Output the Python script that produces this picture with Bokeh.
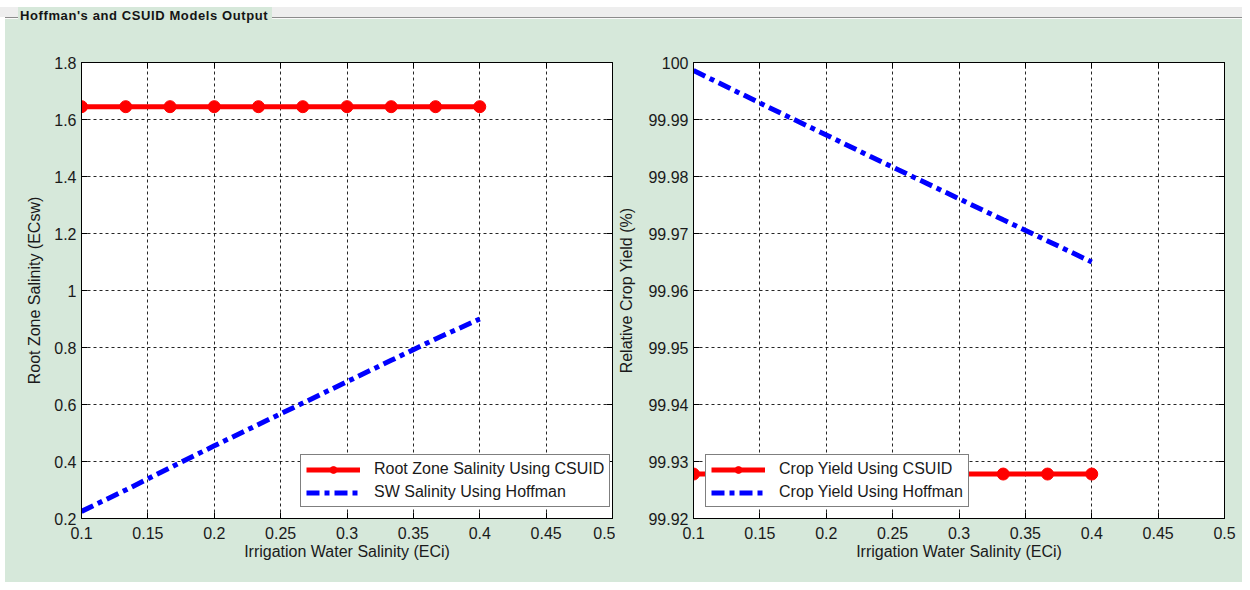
from bokeh.plotting import figure
from bokeh.models import (LinearAxis, Legend, LegendItem, Div, FixedTicker, Range1d, Spacer)
from bokeh.layouts import column, row
from bokeh.embed import file_html
from bokeh.resources import INLINE

# ---------------- data ----------------
title_text = "Hoffman's and CSUID Models Output"
x_eci = [0.1, 0.1333, 0.1667, 0.2, 0.2333, 0.2667, 0.3, 0.3333, 0.3667, 0.4]

rz_csuid = [1.645, 1.645, 1.645, 1.645, 1.645, 1.645, 1.645, 1.645, 1.645, 1.645]
sw_hoffman = [0.225, 0.30, 0.378, 0.455, 0.53, 0.605, 0.68, 0.755, 0.83, 0.90]

cy_csuid = [99.9278, 99.9278, 99.9278, 99.9278, 99.9278, 99.9278, 99.9278, 99.9278, 99.9278, 99.9278]
cy_hoffman = [99.9986, 99.9948, 99.9910, 99.9873, 99.9835, 99.9798, 99.9761, 99.9724, 99.9687, 99.9650]

x_ticks = [0.1, 0.15, 0.2, 0.25, 0.3, 0.35, 0.4, 0.45, 0.5]
x_tick_labels = ["0.1", "0.15", "0.2", "0.25", "0.3", "0.35", "0.4", "0.45", "0.5"]
y1_ticks = [0.2, 0.4, 0.6, 0.8, 1.0, 1.2, 1.4, 1.6, 1.8]
y1_tick_labels = ["0.2", "0.4", "0.6", "0.8", "1", "1.2", "1.4", "1.6", "1.8"]
y2_ticks = [99.92, 99.93, 99.94, 99.95, 99.96, 99.97, 99.98, 99.99, 100.0]
y2_tick_labels = ["99.92", "99.93", "99.94", "99.95", "99.96", "99.97", "99.98", "99.99", "100"]

x_label = "Irrigation Water Salinity (ECi)"
y1_label = "Root Zone Salinity (ECsw)"
y2_label = "Relative Crop Yield (%)"
leg1 = ["Root Zone Salinity Using CSUID", "SW Salinity Using Hoffman"]
leg2 = ["Crop Yield Using CSUID", "Crop Yield Using Hoffman"]

# ---------------- style ----------------
FONT = "Liberation Sans"
GREEN = "#d6e8da"
TXT = "#1a1a1a"
FS = "16px"
FIG_H = 542


def make_fig(width, bl, br, yr, yticks, ylabels, ylabel, ylabel_standoff):
    p = figure(width=width, height=FIG_H, x_range=Range1d(0.1, 0.5), y_range=Range1d(*yr),
               output_backend="svg", toolbar_location=None,
               min_border_left=bl, min_border_right=br, min_border_top=22, min_border_bottom=64)
    p.background_fill_color = "white"
    p.border_fill_color = GREEN
    p.outline_line_color = "black"
    p.outline_line_width = 1

    p.xaxis.ticker = FixedTicker(ticks=x_ticks)
    p.xaxis.major_label_overrides = {t: l for t, l in zip(x_ticks, x_tick_labels)}
    p.yaxis.ticker = FixedTicker(ticks=yticks)
    p.yaxis.major_label_overrides = {t: l for t, l in zip(yticks, ylabels)}
    p.xaxis.axis_label = x_label
    p.yaxis.axis_label = ylabel
    for ax in (p.xaxis, p.yaxis):
        ax.axis_line_color = "black"
        ax.major_tick_in = 6
        ax.major_tick_out = 0
        ax.major_tick_line_color = "black"
        ax.minor_tick_line_color = None
        ax.major_label_text_font = FONT
        ax.major_label_text_font_size = FS
        ax.major_label_text_color = TXT
        ax.axis_label_text_font = FONT
        ax.axis_label_text_font_size = FS
        ax.axis_label_text_font_style = "normal"
        ax.axis_label_text_color = TXT
    p.yaxis.major_label_standoff = 5
    p.xaxis.major_label_standoff = 8
    p.xaxis.axis_label_standoff = 1
    p.yaxis.axis_label_standoff = ylabel_standoff

    # mirrored axes (tick marks only, no labels drawn)
    top = LinearAxis(ticker=FixedTicker(ticks=x_ticks), major_label_text_font_size="1px",
                     major_label_text_color=None, major_label_standoff=0,
                     major_tick_in=6, major_tick_out=0,
                     minor_tick_line_color=None, axis_line_color="black")
    right = LinearAxis(ticker=FixedTicker(ticks=yticks), major_label_text_font_size="1px",
                       major_label_text_color=None, major_label_standoff=0,
                       major_tick_in=6, major_tick_out=0,
                       minor_tick_line_color=None, axis_line_color="black")
    p.add_layout(top, "above")
    p.add_layout(right, "right")

    p.grid.grid_line_color = "black"
    p.grid.grid_line_dash = "3 3"
    p.grid.grid_line_alpha = 0.85
    p.xgrid.ticker = FixedTicker(ticks=x_ticks)
    p.ygrid.ticker = FixedTicker(ticks=yticks)
    return p


def add_series(p, yc, yh, labels, loc):
    l1 = p.line(x_eci, yc, line_color="#ff0000", line_width=5)
    s1 = p.scatter(x_eci, yc, size=12, marker="circle", fill_color="#ff0000", line_color="#ff0000")
    l2 = p.line(x_eci, yh, line_color="#0000ff", line_width=5, line_dash="13 5 5 5")
    leg = Legend(items=[LegendItem(label=labels[0], renderers=[l1, s1]),
                        LegendItem(label=labels[1], renderers=[l2])],
                 location=loc, margin=0, padding=5, spacing=5,
                 glyph_width=54, glyph_height=17, label_height=17, label_standoff=14,
                 label_text_font=FONT, label_text_font_size=FS, label_text_color=TXT,
                 border_line_color="black", border_line_width=1,
                 background_fill_color="white", background_fill_alpha=1.0)
    p.add_layout(leg)


p1 = make_fig(610, 76, 3, (0.2, 1.8), y1_ticks, y1_tick_labels, y1_label, 8)
add_series(p1, rz_csuid, sw_hoffman, leg1, (219, 11))

p2 = make_fig(627, 78, 18, (99.92, 100.0), y2_ticks, y2_tick_labels, y2_label, 10)
add_series(p2, cy_csuid, cy_hoffman, leg2, (12, 11))

header_html = f"""
<div style="position:relative;width:1242px;height:40px;background:#ffffff;overflow:hidden;">
  <div style="position:absolute;left:0;top:7px;width:1242px;height:10px;background:#eeeeee;"></div>
  <div style="position:absolute;left:5px;top:17px;width:1237px;height:1px;background:#8c8c8c;"></div>
  <div style="position:absolute;left:5px;top:18px;width:1237px;height:1px;background:#fafafa;"></div>
  <div style="position:absolute;left:5px;top:19px;width:1237px;height:21px;background:{GREEN};"></div>
  <div style="position:absolute;left:18px;top:7px;width:254px;height:12px;background:{GREEN};"></div>
  <div style="position:absolute;left:20px;top:8px;height:16px;line-height:16px;
              font-family:'{FONT}';font-weight:bold;font-size:13px;letter-spacing:0.6px;color:#141414;
              white-space:nowrap;">{title_text}</div>
</div>
"""
header = Div(text=header_html, width=1242, height=40, margin=(0, 0, 0, 0))
left_pad = Spacer(width=5, height=FIG_H, styles={"background-color": "#ffffff"})

body = row(left_pad, p1, p2, spacing=0, styles={"background-color": GREEN})
layout = column(header, body, spacing=0)

open("out.html", "w").write(file_html(layout, INLINE))
